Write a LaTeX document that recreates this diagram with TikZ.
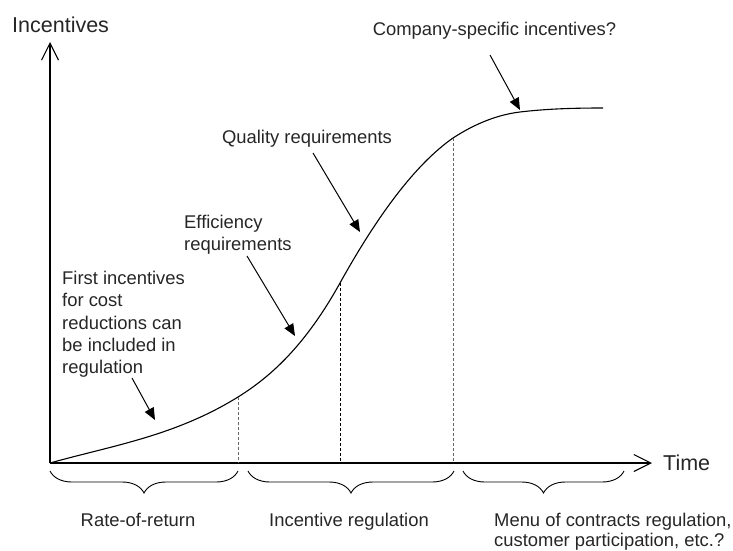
\documentclass[tikz,border=0pt]{standalone}
\usepackage{fontspec}
\setmainfont{Liberation Sans}
\usetikzlibrary{arrows.meta,decorations.pathreplacing}
\begin{document}
\begin{tikzpicture}[x=1pt,y=-1pt,
  lbl/.style={font=\fontsize{18.4}{22.2}\selectfont, inner sep=0pt, text=black!85},
  axlbl/.style={font=\fontsize{21.5}{25}\selectfont, inner sep=0pt, text=black!85},
  axisline/.style={line width=1.3pt, -{Straight Barb[length=17pt,width=17pt,line width=1.1pt]}},
  crv/.style={line width=1.1pt},
  pointer/.style={line width=1pt, -{Triangle[length=12pt,width=10pt]}},
  lightdash/.style={line width=0.7pt, black!60, dash pattern=on 3pt off 2pt},
  darkdash/.style={line width=1pt, black, dash pattern=on 3pt off 2pt},
  brc/.style={decorate, decoration={brace, mirror, amplitude=22pt, aspect=0.5}, line width=0.9pt}
]
\useasboundingbox (0,0) rectangle (733,551);

% axes
\coordinate (O) at (50,463);
\coordinate (ytip) at (50,42);
\coordinate (xtip) at (652,463);
\draw[axisline] (O) -- (ytip);
\draw[axisline] (O) -- (xtip);
\node[axlbl, anchor=base west] (ylab) at (12,33) {Incentives};
\node[axlbl, anchor=base west] (xlab) at (663,470) {Time};

% curve points
\coordinate (c0) at (50,463);
\coordinate (c1) at (238,397);
\coordinate (c2) at (340,283);
\coordinate (c3) at (453,138);
\coordinate (c4) at (520,112);
\coordinate (c5) at (603,108);
\draw[crv] (c0) .. controls (112.7,445.5) and (175.3,435.9) .. (c1)
               .. controls (272,375.9) and (306,344.2) .. (c2)
               .. controls (377.7,215.2) and (415.3,164.4) .. (c3)
               .. controls (475.3,123.5) and (497.7,114.7) .. (c4)
               .. controls (547.7,108.7) and (575.3,108) .. (c5);

% dashed verticals
\coordinate (d1b) at (238,463);
\coordinate (d2b) at (340,463);
\coordinate (d3b) at (453,463);
\draw[lightdash] (c1) -- (d1b);
\draw[darkdash] (c2) -- (d2b);
\draw[lightdash] (c3) -- (d3b);

% labels
\node[lbl, anchor=north west, align=left] (first) at (62,271.2) {First incentives\\for cost\\reductions can\\be included in\\regulation};
\node[lbl, anchor=north west, align=left] (eff) at (184,215.2) {Efficiency\\requirements};
\node[lbl, anchor=base] (qual) at (307,143.6) {Quality requirements};
\node[lbl, anchor=base] (comp) at (494.5,35.6) {Company-specific incentives?};

% pointer arrows
\coordinate (p1s) at (132,378); \coordinate (p1e) at (155,420);
\coordinate (p2s) at (247,256); \coordinate (p2e) at (295,336);
\coordinate (p3s) at (313,153); \coordinate (p3e) at (360,232);
\coordinate (p4s) at (490,55);  \coordinate (p4e) at (520,110);
\draw[pointer] (p1s) -- (p1e);
\draw[pointer] (p2s) -- (p2e);
\draw[pointer] (p3s) -- (p3e);
\draw[pointer] (p4s) -- (p4e);

% braces
\coordinate (b1l) at (50,471);  \coordinate (b1r) at (238,471);
\coordinate (b2l) at (248,471); \coordinate (b2r) at (454,471);
\coordinate (b3l) at (463,471); \coordinate (b3r) at (624,471);
\draw[brc] (b1l) -- (b1r);
\draw[brc] (b2l) -- (b2r);
\draw[brc] (b3l) -- (b3r);

% phase labels
\node[lbl, anchor=base] (ror) at (138,526.5) {Rate-of-return};
\node[lbl, anchor=base] (incr) at (349,526.5) {Incentive regulation};
\node[lbl, font=\fontsize{18.4}{19.5}\selectfont, anchor=north west, align=left] (menu) at (494,513.2) {Menu of contracts regulation,\\customer participation, etc.?};
\end{tikzpicture}
\end{document}
